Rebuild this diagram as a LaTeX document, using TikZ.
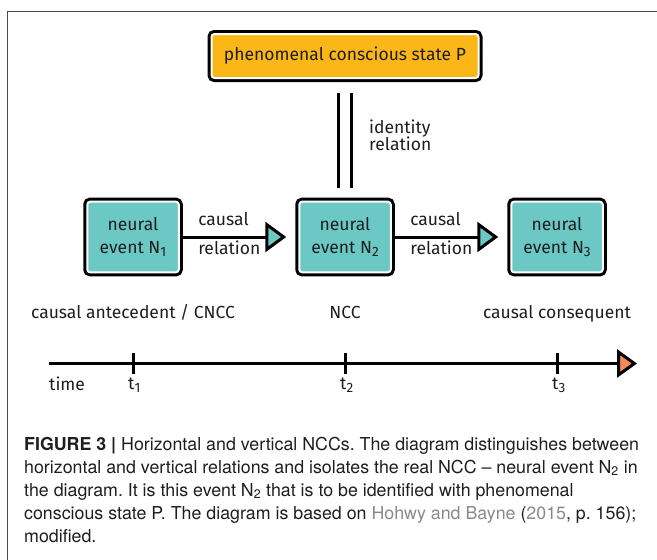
\documentclass[tikz,border=0pt]{standalone}
\usepackage{fontspec}
\setmainfont{Fira Sans}
\newfontfamily\captionfont{TeX Gyre Heros}
\usetikzlibrary{arrows.meta}
\definecolor{stateOrange}{HTML}{FBB717}
\definecolor{eventTeal}{HTML}{6CC8C5}
\definecolor{timeOrange}{HTML}{F28A5C}
\definecolor{frameGray}{HTML}{4A4A4A}
\definecolor{linkGray}{HTML}{8A8A8A}
\definecolor{textBlack}{HTML}{1E1E1E}
\newcommand{\lowsub}[1]{\raisebox{-3pt}{\fontsize{13.5}{13.5}\selectfont #1}}
\frenchspacing

\begin{document}
\begin{tikzpicture}[x=1pt, y=-1pt,
    boxStyle/.style={draw=white, line width=2pt, rounded corners=3pt, outer sep=4pt, preaction={draw=black, line width=8pt}, align=center, text=textBlack, font=\fontsize{17.5}{23}\selectfont},
    stateStyle/.style={boxStyle, fill=stateOrange, minimum width=267pt, minimum height=44pt},
    eventStyle/.style={boxStyle, fill=eventTeal, minimum width=91.5pt, minimum height=70.7pt},
    labelStyle/.style={inner sep=0pt, text=textBlack, font=\fontsize{17.5}{17.7}\selectfont},
    causalStyle/.style={line width=3pt, -{Triangle[length=21pt, width=30pt, fill=eventTeal]}, shorten >=9pt},
    identityStyle/.style={line width=3pt, double=white, double distance=10.5pt, shorten <=11pt, shorten >=10pt},
    timeStyle/.style={line width=3pt, -{Triangle[length=20pt, width=28pt, fill=timeOrange]}},
    tickStyle/.style={line width=3pt}]
    \useasboundingbox (0,0) rectangle (657,560);
    \draw[frameGray, line width=1.5pt] (7.5,560) -- (7.5,11.5) -- (657,11.5);

    \node[stateStyle](state) at (345, 56) {phenomenal conscious state P};
    \node[eventStyle](n1) at (133, 237) {neural\\event N\lowsub{1}};
    \node[eventStyle](n2) at (345, 237) {neural\\event N\lowsub{2}};
    \node[eventStyle](n3) at (557, 237) {neural\\event N\lowsub{3}};

    \draw[identityStyle] (state) -- (n2);
    \node[labelStyle, align=left, anchor=base west](identity) at (369, 150.7) {identity\\relation};

    \draw[causalStyle] (n1) -- node[labelStyle, pos=0, anchor=base west, xshift=14pt, yshift=11.6pt]{causal}
        node[labelStyle, pos=0, anchor=base west, xshift=14pt, yshift=-17.4pt]{relation} (n2);
    \draw[causalStyle] (n2) -- node[labelStyle, pos=0, anchor=base west, xshift=14pt, yshift=11.6pt]{causal}
        node[labelStyle, pos=0, anchor=base west, xshift=14pt, yshift=-17.4pt]{relation} (n3);

    \node[labelStyle, anchor=base](antecedent) at (133, 318) {causal antecedent / CNCC};
    \node[labelStyle, anchor=base](ncc) at (345, 318) {NCC};
    \node[labelStyle, anchor=base](consequent) at (557, 318) {causal consequent};

    \coordinate (timeStart) at (49, 363.5);
    \coordinate (timeEnd) at (637, 363.5);
    \coordinate (tick1) at (133, 363.5);
    \coordinate (tick2) at (345, 363.5);
    \coordinate (tick3) at (557, 363.5);
    \draw[timeStyle] (timeStart) -- (timeEnd);
    \draw[tickStyle] ([yshift=10.5pt]tick1) -- ([yshift=-10.5pt]tick1);
    \draw[tickStyle] ([yshift=10.5pt]tick2) -- ([yshift=-10.5pt]tick2);
    \draw[tickStyle] ([yshift=10.5pt]tick3) -- ([yshift=-10.5pt]tick3);
    \node[labelStyle, anchor=base west](time) at (49, 390) {time};
    \node[labelStyle, anchor=base west](t1) at (128, 389) {t\lowsub{1}};
    \node[labelStyle, anchor=base west](t2) at (340, 389) {t\lowsub{2}};
    \node[labelStyle, anchor=base west](t3) at (552, 389) {t\lowsub{3}};

    \node[inner sep=0pt, anchor=base west, align=left, text=textBlack, font=\captionfont\fontsize{17.8}{23}\selectfont](caption) at (24, 542)
        {\textbf{FIGURE 3 |} Horizontal and vertical NCCs. The diagram distinguishes between\\
         horizontal and vertical relations and isolates the real NCC – neural event N\textsubscript{2} in\\
         the diagram. It is this event N\textsubscript{2} that is to be identified with phenomenal\\
         conscious state P. The diagram is based on \textcolor{linkGray}{Hohwy and Bayne} (\textcolor{linkGray}{2015}, p. 156);\\
         modified.};
\end{tikzpicture}
\end{document}
